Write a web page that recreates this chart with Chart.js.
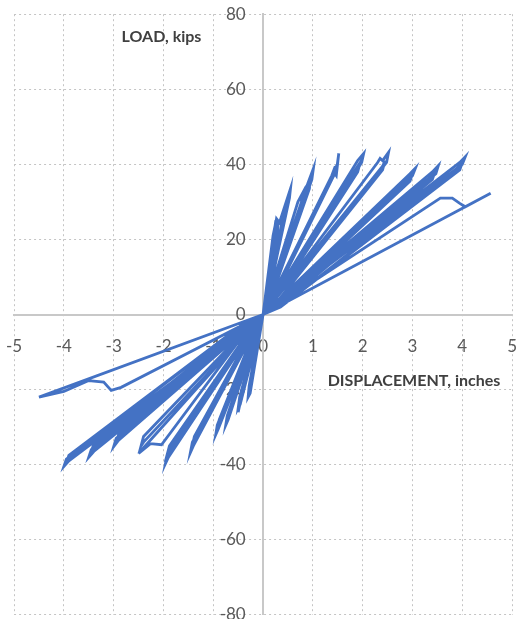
<!DOCTYPE html>
<html>
<head>
<meta charset="utf-8">
<script src="https://cdn.jsdelivr.net/npm/chart.js@4"></script>
<style>
  html, body { margin: 0; padding: 0; background: #fff; overflow: hidden; }
  body { width: 521px; height: 619px; position: relative; }
  /* the centred axes make Chart.js keep a margin; shift the canvas so the plot fills the page */
  #wrap { position: absolute; left: -16px; top: 1px; width: 555px; height: 627px; }
</style>
</head>
<body>
<div id="wrap"><canvas id="hysteresis"></canvas></div>
<script>
// cyclic test record, one cycle per line
const displacement = [
  0, 0.20, 0.27, 0.25, 0.04, 0, -0.20, -0.25, -0.24, -0.04,
  0, 0.25, 0.30, 0.29, 0.05, 0, -0.26, -0.30, -0.28, -0.05,
  0, 0.27, 0.33, 0.55, 0.53, 0.06, 0, -0.45, -0.50, -0.48, -0.06,
  0, 0.45, 0.50, 0.48, 0.07, 0, -0.46, -0.50, -0.47, -0.06,
  0, 0.70, 0.80, 0.77, 0.08, 0, -0.70, -0.75, -0.72, -0.08,
  0, 0.90, 1.01, 0.98, 0.10, 0, -0.90, -0.95, -0.92, -0.10,
  0, 0.88, 0.95, 0.93, 0.10, 0, -0.85, -0.92, -0.88, -0.10,
  0, 1.44, 1.47, 1.52, 1.49, 0.12, 0, -1.40, -1.46, -1.42, -0.12,
  0, 1.38, 1.45, 1.42, 0.12, 0, -1.38, -1.42, -1.38, -0.12,
  0, 1.90, 2.02, 1.98, 0.15, 0, -1.90, -1.96, -1.92, -0.15,
  0, 1.85, 1.95, 1.90, 0.15, 0, -1.85, -1.93, -1.88, -0.15,
  0, 2.30, 2.35, 2.40, 2.52, 2.48, 0.20, 0, -2.40, -2.50, -2.26, -2.04, -0.20,
  0, 2.40, 2.45, 2.40, 0.20, 0, -2.40, -2.45, -2.40, -0.20,
  0, 2.95, 3.06, 3.00, 0.25, 0, -2.90, -3.00, -2.95, -0.25,
  0, 2.90, 3.00, 2.95, 0.25, 0, -2.85, -2.95, -2.90, -0.25,
  0, 3.40, 3.52, 3.47, 0.30, 0, -3.40, -3.50, -3.45, -0.30,
  0, 3.35, 3.45, 3.40, 0.30, 0, -3.35, -3.45, -3.40, -0.30,
  0, 3.95, 4.06, 4.00, 0.35, 0, -3.90, -4.00, -3.95, -0.35,
  0, 3.90, 4.00, 3.95, 0.35, 0, -3.85, -3.95, -3.90, -0.35,
  0, 3.56, 3.80, 3.95, 4.06, 4.57, 0, -4.50, -4.00, -3.50, -3.20, -3.05, -2.85, 0
];
const load = [
  0, 21.0, 25.5, 23.0, 2, 0, -16.0, -20.0, -18.0, -2,
  0, 24.5, 24.0, 22.0, 2, 0, -21.0, -22.0, -19.0, -2,
  0, 25.5, 24.5, 33.5, 31.0, 2, 0, -23.0, -26.0, -23.0, -2,
  0, 29.0, 31.0, 28.5, 2, 0, -24.0, -25.0, -22.0, -2,
  0, 30.0, 32.5, 30.0, 2, 0, -28.0, -29.5, -27.0, -2,
  0, 35.0, 38.9, 36.0, 2, 0, -30.5, -32.0, -29.5, -2,
  0, 33.0, 36.0, 33.5, 2, 0, -28.0, -30.5, -28.0, -2,
  0, 37.6, 37.0, 42.9, 40.0, 2, 0, -35.0, -36.8, -34.0, -2,
  0, 37.0, 39.5, 37.0, 2, 0, -33.5, -35.0, -32.5, -2,
  0, 41.0, 42.9, 40.5, 2, 0, -38.0, -39.7, -37.0, -2,
  0, 38.5, 40.5, 38.0, 2, 0, -36.0, -37.5, -35.0, -2,
  0, 40.5, 41.6, 41.0, 43.2, 40.5, 2, 0, -35.5, -37.0, -34.4, -34.7, -2,
  0, 39.5, 41.0, 38.5, 2, 0, -34.0, -35.0, -32.5, -2,
  0, 37.5, 39.0, 37.0, 2, 0, -33.5, -35.2, -33.0, -2,
  0, 36.0, 37.5, 35.5, 2, 0, -32.5, -34.0, -32.0, -2,
  0, 38.0, 39.7, 37.5, 2, 0, -36.5, -38.0, -36.0, -2,
  0, 36.5, 38.0, 36.0, 2, 0, -35.0, -36.5, -34.5, -2,
  0, 40.5, 42.0, 40.0, 2, 0, -39.0, -40.5, -38.5, -2,
  0, 39.0, 40.5, 38.5, 2, 0, -38.0, -39.5, -37.5, -2,
  0, 31.0, 31.0, 29.6, 28.7, 32.3, 0, -22.0, -20.5, -17.6, -18.0, -20.2, -19.4, 0
];
const xLimits = [-5, 5];
const yLimits = [-80, 80];

const points = displacement.map((d, i) => ({x: d, y: load[i]}));

// axis captions sit inside the plot, like the spreadsheet original
const axisCaptions = {
  id: 'axisCaptions',
  afterDraw(chart) {
    const {ctx, scales} = chart;
    ctx.save();
    ctx.font = 'bold 16px Lato';
    ctx.fillStyle = '#404040';
    ctx.textAlign = 'center';
    ctx.textBaseline = 'middle';
    ctx.fillText('LOAD, kips', scales.x.getPixelForValue(-2.04), scales.y.getPixelForValue(74));
    ctx.fillText('DISPLACEMENT, inches', scales.x.getPixelForValue(3.03), scales.y.getPixelForValue(-17.6));
    ctx.restore();
  }
};

new Chart(document.getElementById('hysteresis'), {
  type: 'scatter',
  data: {
    datasets: [{
      label: 'Load',
      data: points,
      showLine: true,
      borderColor: '#4472c4',
      borderWidth: 2.8,
      pointRadius: 0,
      tension: 0
    }]
  },
  options: {
    responsive: true,
    maintainAspectRatio: false,
    animation: false,
    layout: {padding: 0},
    plugins: {
      legend: {display: false},
      tooltip: {enabled: false}
    },
    scales: {
      x: {
        type: 'linear',
        position: {y: 0},
        min: xLimits[0],
        max: xLimits[1],
        ticks: {stepSize: 1, color: '#595959', font: {family: 'Lato', size: 17}, padding: 22},
        grid: {color: '#c4c4c4', drawTicks: false},
        border: {display: true, color: '#c8c8c8', width: 2, dash: [2, 3]}
      },
      y: {
        type: 'linear',
        position: {x: 0},
        min: yLimits[0],
        max: yLimits[1],
        // padding is ignored for a y axis pinned at x=0, so pad the label text itself
        ticks: {stepSize: 20, color: '#595959', font: {family: 'Lato', size: 17},
                callback: v => v + '    '},
        grid: {color: '#c4c4c4', drawTicks: false},
        border: {display: true, color: '#c8c8c8', width: 2, dash: [2, 3]}
      }
    }
  },
  plugins: [axisCaptions]
});
</script>
</body>
</html>
